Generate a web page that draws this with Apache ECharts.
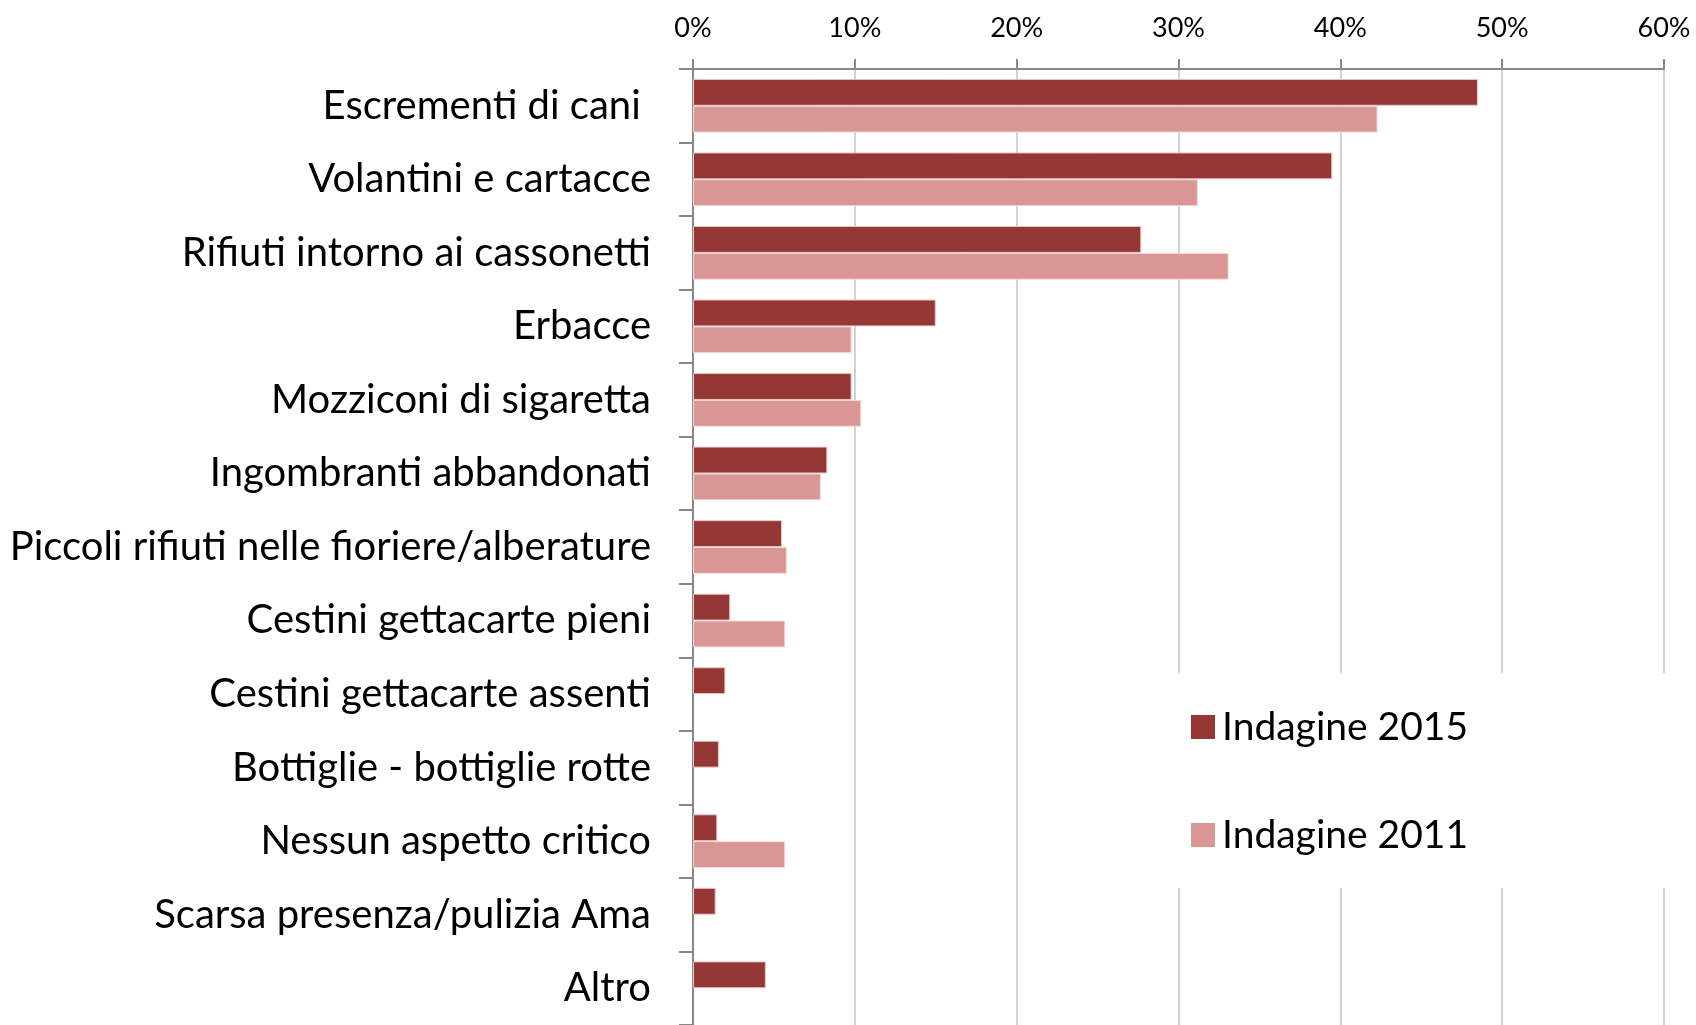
<!DOCTYPE html>
<html>
<head>
<meta charset="utf-8">
<script src="https://cdn.jsdelivr.net/npm/echarts@6/dist/echarts.min.js"></script>
<style>
  html, body { margin: 0; padding: 0; background: #fff; }
  #chart { width: 1696px; height: 1025px; }
</style>
</head>
<body>
<div id="chart"></div>
<script>
// Aspetti critici segnalati per la pulizia delle strade (% di risposte)
const categories = [
  'Escrementi di cani ',
  'Volantini e cartacce',
  'Rifiuti intorno ai cassonetti',
  'Erbacce',
  'Mozziconi di sigaretta',
  'Ingombranti abbandonati',
  'Piccoli rifiuti nelle fioriere/alberature',
  'Cestini gettacarte pieni',
  'Cestini gettacarte assenti',
  'Bottiglie - bottiglie rotte',
  'Nessun aspetto critico',
  'Scarsa presenza/pulizia Ama',
  'Altro'
];
const indagine2015 = [48.5, 39.5, 27.7, 15.0, 9.8, 8.3, 5.5, 2.3, 2.0, 1.6, 1.5, 1.4, 4.5];
const indagine2011 = [42.3, 31.2, 33.1, 9.8, 10.4, 7.9, 5.8, 5.7, null, null, 5.7, null, null];
const seriesNames = ['Indagine 2015', 'Indagine 2011'];
const percentTicks = { min: 0, max: 60, interval: 10 };

const FONT = 'Lato, "Open Sans", sans-serif';
const chart = echarts.init(document.getElementById('chart'), null, { renderer: 'canvas' });

chart.setOption({
  backgroundColor: '#ffffff',
  animation: false,
  grid: { left: 693, right: 32, top: 69, height: 962, containLabel: false },
  legend: {
    orient: 'vertical',
    left: 1170,
    top: 673,
    data: seriesNames,
    backgroundColor: '#ffffff',
    padding: [34, 221, 33, 21],
    itemWidth: 24,
    itemHeight: 24,
    itemGap: 68,
    icon: 'rect',
    z: 10,
    itemStyle: { borderWidth: 0 },
    textStyle: { fontFamily: FONT, fontSize: 39, color: '#000', lineHeight: 40, padding: [0, 0, 0, 2] }
  },
  xAxis: {
    type: 'value',
    position: 'top',
    min: percentTicks.min,
    max: percentTicks.max,
    interval: percentTicks.interval,
    axisLine: { show: true, lineStyle: { color: '#878787', width: 2 } },
    axisTick: { show: true, length: 10, lineStyle: { color: '#878787', width: 2 } },
    axisLabel: {
      formatter: '{value}%',
      fontFamily: FONT,
      fontSize: 27,
      color: '#000',
      margin: 27
    },
    splitLine: { show: true, lineStyle: { color: '#c4c4c4', width: 1.5 } }
  },
  yAxis: {
    type: 'category',
    inverse: true,
    data: categories,
    axisLine: { show: true, lineStyle: { color: '#878787', width: 2 } },
    axisTick: { show: true, length: 14, lineStyle: { color: '#878787', width: 2 } },
    axisLabel: { fontFamily: FONT, fontSize: 40, color: '#000', margin: 42 },
    splitLine: { show: false }
  },
  series: [
    {
      name: seriesNames[0],
      type: 'bar',
      data: indagine2015,
      barGap: '0%',
      barCategoryGap: '27%',
      itemStyle: { color: '#953735', borderColor: '#e6c4c3', borderWidth: 1 }
    },
    {
      name: seriesNames[1],
      type: 'bar',
      data: indagine2011,
      barGap: '0%',
      barCategoryGap: '27%',
      itemStyle: { color: '#d99694', borderColor: '#f2dcdb', borderWidth: 1 }
    }
  ]
});
</script>
</body>
</html>
